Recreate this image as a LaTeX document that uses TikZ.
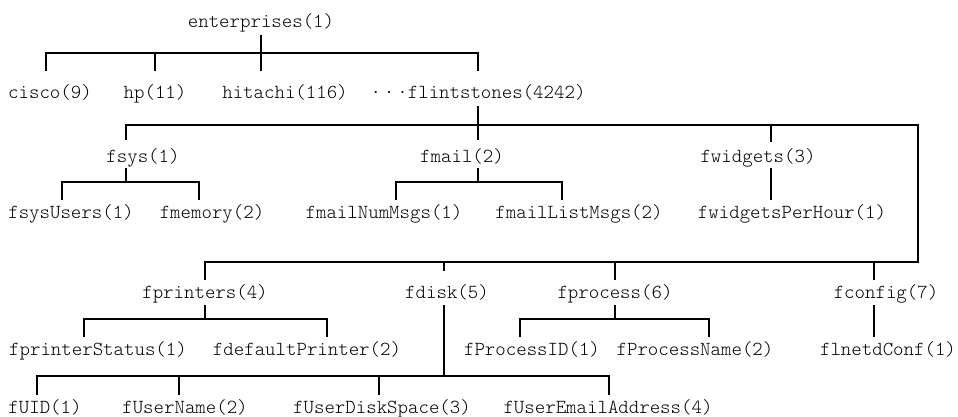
\documentclass[tikz,border=0pt]{standalone}
\usepackage{fontspec}
\newfontfamily\oidfont{Latin Modern Mono Light}

\begin{document}
\begin{tikzpicture}[x=1pt, y=-1pt,
    oid/.style={font={\oidfont\fontsize{19.9pt}{22pt}\selectfont}, inner sep=0pt, anchor=base, text height=18pt, text depth=8pt},
    branch/.style={line width=1.6pt}]
      \useasboundingbox (0, 0) rectangle (958, 416);

      \node[oid] (ent) at (261, 27) {enterprises(1)};

      \node[oid, text height=27pt] (cisco) at (50, 98) {cisco(9)};
      \node[oid, text height=27pt] (hp) at (155, 98) {hp(11)};
      \node[oid, text height=27pt] (hitachi) at (285, 98) {hitachi(116)};
      \node[oid, text height=27pt] (flint) at (478, 98) {·\kern3pt·\kern3pt·flintstones(4242)};

      \node[oid, text height=22pt, text depth=6pt] (fsys) at (143, 162) {fsys(1)};
      \node[oid, text height=22pt, text depth=6pt] (fmail) at (462, 162) {fmail(2)};
      \node[oid, text height=20pt, text depth=6pt] (fwidgets) at (758, 162) {fwidgets(3)};

      \node[oid] (fsysusers) at (71, 218) {fsysUsers(1)};
      \node[oid] (fmemory) at (212, 218) {fmemory(2)};
      \node[oid] (fmailnum) at (384, 218) {fmailNumMsgs(1)};
      \node[oid] (fmaillist) at (579, 218) {fmailListMsgs(2)};
      \node[oid] (fwidgetsph) at (792, 218) {fwidgetsPerHour(1)};

      \node[oid, text depth=7pt] (fprinters) at (205, 298) {fprinters(4)};
      \node[oid, text height=27pt, text depth=7pt] (fdisk) at (447, 298) {fdisk(5)};
      \node[oid, text depth=7pt] (fprocess) at (615, 298) {fprocess(6)};
      \node[oid, text depth=7pt] (fconfig) at (886, 298) {fconfig(7)};

      \node[oid] (fprinterstatus) at (98, 355) {fprinterStatus(1)};
      \node[oid] (fdefaultprinter) at (307, 355) {fdefaultPrinter(2)};
      \node[oid] (fprocessid) at (532, 355) {fProcessID(1)};
      \node[oid] (fprocessname) at (695, 355) {fProcessName(2)};
      \node[oid] (flnetdconf) at (888, 355) {flnetdConf(1)};

      \node[oid] (fuid) at (45, 413) {fUID(1)};
      \node[oid] (fusername) at (185, 413) {fUserName(2)};
      \node[oid] (fuserdisk) at (382, 413) {fUserDiskSpace(3)};
      \node[oid] (fuseremail) at (608, 413) {fUserEmailAddress(4)};

      \draw[branch] (ent.south) -- ++(0, 18) -| ([xshift=-4pt]cisco.north);
      \draw[branch] (ent.south) -- ++(0, 18) -| (hp.north);
      \draw[branch] (ent.south) -- ++(0, 18) -| ([xshift=-24pt]hitachi.north);
      \draw[branch] (ent.south) -- ++(0, 18) -| (flint.north);

      \draw[branch] (flint.south) -- ++(0, 19) -| ([xshift=-17pt]fsys.north);
      \draw[branch] (flint.south) -- ++(0, 19) -| ([xshift=16pt]fmail.north);
      \draw[branch] (flint.south) -- ++(0, 19) -| ([xshift=13pt]fwidgets.north);
      \draw[branch] (flint.south) -- ++(0, 19) -| ++(440, 137) -| (fprinters.north);
      \draw[branch] (flint.south) -- ++(0, 19) -| ++(440, 137) -| ([xshift=-3pt]fdisk.north);
      \draw[branch] (flint.south) -- ++(0, 19) -| ++(440, 137) -| (fprocess.north);
      \draw[branch] (flint.south) -- ++(0, 19) -| ++(440, 137) -| ([xshift=-12pt]fconfig.north);

      \draw[branch] ([xshift=-17pt]fsys.south) -- ++(0, 14) -| ([xshift=-9pt]fsysusers.north);
      \draw[branch] ([xshift=-17pt]fsys.south) -- ++(0, 14) -| ([xshift=-13pt]fmemory.north);
      \draw[branch] ([xshift=16pt]fmail.south) -- ++(0, 14) -| ([xshift=12pt]fmailnum.north);
      \draw[branch] ([xshift=16pt]fmail.south) -- ++(0, 14) -| ([xshift=-17pt]fmaillist.north);
      \draw[branch] ([xshift=13pt]fwidgets.south) -- ([xshift=-21pt]fwidgetsph.north);

      \draw[branch] (fprinters.south) -- ++(0, 14) -| ([xshift=-14pt]fprinterstatus.north);
      \draw[branch] (fprinters.south) -- ++(0, 14) -| ([xshift=20pt]fdefaultprinter.north);
      \draw[branch] (fprocess.south) -- ++(0, 14) -| ([xshift=-12pt]fprocessid.north);
      \draw[branch] (fprocess.south) -- ++(0, 14) -| ([xshift=14pt]fprocessname.north);
      \draw[branch] ([xshift=-12pt]fconfig.south) -- ([xshift=-14pt]flnetdconf.north);

      \draw[branch] ([xshift=-3pt]fdisk.south) -- ++(0, 71) -| ([xshift=-8pt]fuid.north);
      \draw[branch] ([xshift=-3pt]fdisk.south) -- ++(0, 71) -| ([xshift=-6pt]fusername.north);
      \draw[branch] ([xshift=-3pt]fdisk.south) -- ++(0, 71) -| ([xshift=-3pt]fuserdisk.north);
      \draw[branch] ([xshift=-3pt]fdisk.south) -- ++(0, 71) -| ([xshift=1pt]fuseremail.north);
\end{tikzpicture}
\end{document}
